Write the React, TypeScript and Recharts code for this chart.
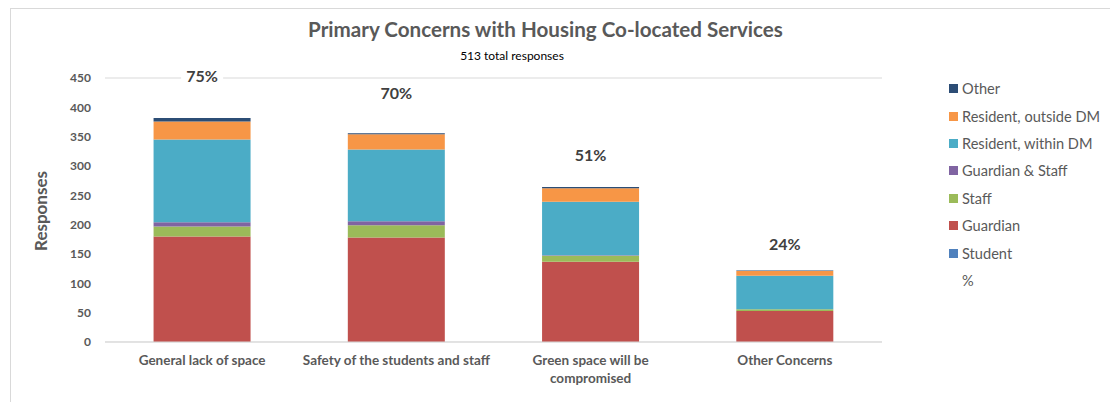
import React from "react";
import {
  ComposedChart,
  Bar,
  Line,
  XAxis,
  YAxis,
  CartesianGrid,
  LabelList,
} from "recharts";

const categories = [
  "General lack of space",
  "Safety of the students and staff",
  "Green space will be compromised",
  "Other Concerns",
];
const tickLines = [
  ["General lack of space"],
  ["Safety of the students and staff"],
  ["Green space will be", "compromised"],
  ["Other Concerns"],
];

const student = [0, 0, 0, 0];
const guardian = [180, 178, 137, 53];
const staff = [17, 21, 10, 3];
const guardianStaff = [7, 7, 1, 0];
const residentWithin = [141, 122, 91, 57];
const residentOutside = [31, 26, 23, 8];
const other = [6, 2, 2, 1];
const pct = [75, 70, 51, 24];

const yTicks = [0, 50, 100, 150, 200, 250, 300, 350, 400, 450];

const SERIES = [
  { key: "student", name: "Student", color: "#4F81BD", values: student },
  { key: "guardian", name: "Guardian", color: "#C0504D", values: guardian },
  { key: "staff", name: "Staff", color: "#9BBB59", values: staff },
  { key: "guardianStaff", name: "Guardian & Staff", color: "#8064A2", values: guardianStaff },
  { key: "residentWithin", name: "Resident, within DM", color: "#4BACC6", values: residentWithin },
  { key: "residentOutside", name: "Resident, outside DM", color: "#F79646", values: residentOutside },
  { key: "other", name: "Other", color: "#2C4D75", values: other },
];

const data = categories.map((name, i) => {
  const row: Record<string, string | number> = { name, pct: pct[i] };
  SERIES.forEach((s) => {
    row[s.key] = s.values[i];
  });
  return row;
});

const FONT = "Lato, 'Open Sans', sans-serif";
const GRAY = "#595959";

const CategoryTick = (props: any) => {
  const { x, y, index } = props;
  const lines = tickLines[index] || [String(props.payload?.value ?? "")];
  return (
    <text
      x={x}
      y={y}
      textAnchor="middle"
      fill={GRAY}
      fontSize={13.5}
      fontWeight="bold"
      fontFamily={FONT}
    >
      {lines.map((l, i) => (
        <tspan key={i} x={x} dy={i === 0 ? 15 : 17.5}>
          {l}
        </tspan>
      ))}
    </text>
  );
};

const PctLabel = (props: any) => {
  const { x, y, value } = props;
  const cy = y - 19;
  return (
    <g>
      <rect x={x - 21} y={cy - 10} width={42} height={20} fill="#ffffff" />
      <text
        x={x}
        y={cy}
        textAnchor="middle"
        dominantBaseline="central"
        fill="#404040"
        fontSize={16}
        fontWeight="bold"
        fontFamily={FONT}
      >
        {`${value}%`}
      </text>
    </g>
  );
};

export default function App() {
  const legendItems = [...SERIES].reverse();
  return (
    <div
      style={{
        position: "relative",
        width: 1110,
        height: 394,
        marginLeft: 2,
        borderTop: "1px solid #d9d9d9",
        borderLeft: "1px solid #d9d9d9",
        background: "#ffffff",
        fontFamily: FONT,
        overflow: "hidden",
      }}
    >
      <div
        style={{
          position: "absolute",
          left: 0,
          top: 8,
          width: 1069,
          textAlign: "center",
          fontSize: 20.6,
          lineHeight: "24px",
          fontWeight: "bold",
          color: GRAY,
          whiteSpace: "nowrap",
        }}
      >
        Primary Concerns with Housing Co-located Services
      </div>
      <div
        style={{
          position: "absolute",
          left: 0,
          top: 40,
          width: 1002,
          textAlign: "center",
          fontSize: 12,
          lineHeight: "14px",
          color: "#000000",
        }}
      >
        513 total responses
      </div>
      <div
        style={{
          position: "absolute",
          left: 29,
          top: 202,
          transform: "translate(-50%, -50%) rotate(-90deg)",
          fontSize: 17,
          fontWeight: "bold",
          color: GRAY,
          whiteSpace: "nowrap",
        }}
      >
        Responses
      </div>

      <div style={{ position: "absolute", left: 0, top: 0 }}>
        <ComposedChart
          width={1107}
          height={393}
          data={data}
          margin={{ top: 69, right: 236, bottom: 30, left: 34 }}
          barCategoryGap="25%"
        >
          <CartesianGrid vertical={false} stroke="#d9d9d9" strokeWidth={1} />
          <XAxis
            dataKey="name"
            axisLine={{ stroke: "#d9d9d9" }}
            tickLine={false}
            tickMargin={2}
            height={30}
            interval={0}
            tick={<CategoryTick />}
          />
          <YAxis
            yAxisId="left"
            width={60}
            domain={[0, 450]}
            ticks={yTicks}
            axisLine={false}
            tickLine={false}
            tickMargin={8}
            tick={{ fill: GRAY, fontSize: 12, fontWeight: "bold", fontFamily: FONT }}
          />
          <YAxis yAxisId="pct" orientation="right" hide domain={[0, 80]} />
          {SERIES.map((s) => (
            <Bar
              key={s.key}
              yAxisId="left"
              dataKey={s.key}
              name={s.name}
              stackId="a"
              fill={s.color}
              isAnimationActive={false}
            />
          ))}
          <Line
            yAxisId="pct"
            dataKey="pct"
            name="%"
            stroke="none"
            dot={false}
            activeDot={false}
            isAnimationActive={false}
          >
            <LabelList dataKey="pct" content={<PctLabel />} />
          </Line>
        </ComposedChart>
      </div>

      <div style={{ position: "absolute", left: 938, top: 66 }}>
        {legendItems.map((s) => (
          <div
            key={s.key}
            style={{ display: "flex", alignItems: "center", height: 27.4 }}
          >
            <span
              style={{
                display: "inline-block",
                width: 9,
                height: 9,
                background: s.color,
                marginRight: 4,
              }}
            />
            <span style={{ fontSize: 14.6, color: GRAY, whiteSpace: "nowrap" }}>
              {s.name}
            </span>
          </div>
        ))}
        <div style={{ display: "flex", alignItems: "center", height: 27.4 }}>
          <span style={{ display: "inline-block", width: 9, height: 9, marginRight: 4 }} />
          <span style={{ fontSize: 14.6, color: GRAY }}>%</span>
        </div>
      </div>
    </div>
  );
}
